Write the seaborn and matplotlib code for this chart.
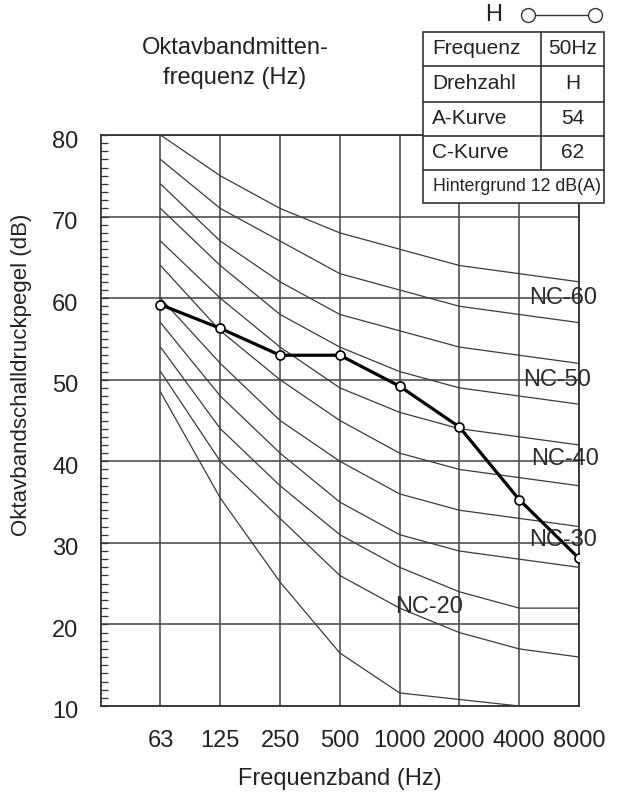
import numpy as np
import pandas as pd
import matplotlib
matplotlib.use("Agg")
import matplotlib.pyplot as plt
import seaborn as sns
from matplotlib.lines import Line2D
from matplotlib.patches import Rectangle
from matplotlib.ticker import MultipleLocator
from matplotlib.transforms import ScaledTranslation
from matplotlib import font_manager

# ---- data -------------------------------------------------------------
bands = ["63", "125", "250", "500", "1000", "2000", "4000", "8000"]

nc_65 = [80, 75, 71, 68, 66, 64, 63, 62]
nc_60 = [77, 71, 67, 63, 61, 59, 58, 57]
nc_55 = [74, 67, 62, 58, 56, 54, 53, 52]
nc_50 = [71, 64, 58, 54, 51, 49, 48, 47]
nc_45 = [67, 60, 54, 49, 46, 44, 43, 42]
nc_40 = [64, 56, 50, 45, 41, 39, 38, 37]
nc_35 = [60, 52, 45, 40, 36, 34, 33, 32]
nc_30 = [57, 48, 41, 35, 31, 29, 28, 27]
nc_25 = [54, 44, 37, 31, 27, 24, 22, 22]
nc_20 = [51, 40, 33, 26, 22, 19, 17, 16]
nc_15 = [48.5, 35.5, 25.2, 16.5, 11.6, 10.8, 10.0, np.nan]

measured = [59.2, 56.3, 53.0, 53.0, 49.2, 44.2, 35.3, 28.1]

nc_names = ["NC-65", "NC-60", "NC-55", "NC-50", "NC-45", "NC-40",
            "NC-35", "NC-30", "NC-25", "NC-20", "NC-15"]
nc_levels = [nc_65, nc_60, nc_55, nc_50, nc_45, nc_40,
             nc_35, nc_30, nc_25, nc_20, nc_15]

curve_labels = ["NC-60", "NC-50", "NC-40", "NC-30", "NC-20"]

table_keys = ["Frequenz", "Drehzahl", "A-Kurve", "C-Kurve"]
table_values = ["50Hz", "H", "54", "62"]
table_footer = "Hintergrund 12 dB(A)"

# ---- styling ----------------------------------------------------------
sns.set_theme(style="white")
plt.rcParams["font.family"] = ["Liberation Sans", "DejaVu Sans"]
TXT = "#222222"
plt.rcParams["text.color"] = TXT

W, H = 626, 798
fig = plt.figure(figsize=(W / 100, H / 100), dpi=100)


def fx(px):
    return px / W


def fy(py):
    return 1 - py / H


left, right, top, bottom = 100.7, 579.0, 135.0, 706.0
ax = fig.add_axes([fx(left), fy(bottom), fx(right) - fx(left), fy(top) - fy(bottom)])

pos = np.arange(len(bands))
nc_df = pd.DataFrame(
    [(p, lvl, name) for name, vals in zip(nc_names, nc_levels) for p, lvl in zip(pos, vals)],
    columns=["pos", "level", "curve"],
)

sns.lineplot(data=nc_df, x="pos", y="level", hue="curve",
             palette={n: "#3a3a3a" for n in nc_names}, legend=False,
             linewidth=0.9, sort=False, estimator=None, ax=ax, zorder=3)

sns.lineplot(x=pos, y=measured, color="black", linewidth=2.3, marker="o",
             markersize=6.5, markerfacecolor="white", markeredgecolor="black",
             markeredgewidth=1.2, ax=ax, zorder=5)

# ---- axes -------------------------------------------------------------
ax.set_xlim(-1, 7)
ax.set_ylim(10, 80)
ax.set_xticks(pos)
ax.set_xticklabels(bands)
ax.set_yticks(range(10, 81, 10))
ax.yaxis.set_minor_locator(MultipleLocator(1))
ax.set_axisbelow(True)
ax.grid(True, which="major", color="#505050", linewidth=1.2)

ax.tick_params(axis="x", length=0, labelsize=17, pad=17, labelcolor=TXT)
ax.tick_params(axis="y", which="major", direction="in", length=5, width=0.9,
               color="#333333", labelsize=17, pad=16, labelcolor=TXT, left=True)
ax.tick_params(axis="y", which="minor", direction="in", length=5, width=0.9,
               color="#333333", left=True)
for lab in ax.get_yticklabels():
    lab.set_transform(lab.get_transform() + ScaledTranslation(0, -4 / 100, fig.dpi_scale_trans))

for s in ax.spines.values():
    s.set_color("#333333")
    s.set_linewidth(1.3)
    s.set_visible(True)

ax.set_xlabel("Frequenzband (Hz)", fontsize=17, labelpad=12, color=TXT)
ax.set_ylabel("Oktavbandschalldruckpegel (dB)", fontsize=16, color=TXT)
ax.yaxis.set_label_coords((22.0 - left) / (right - left), (bottom - 375) / (bottom - top))
ax.yaxis.label.set_verticalalignment("center")

# curve labels
label_spots = [(6.73, 60.0), (6.63, 50.0), (6.77, 40.3), (6.74, 30.3), (4.50, 22.1)]
for txt, (xx, yy) in zip(curve_labels, label_spots):
    ax.text(xx, yy, txt, fontsize=17, ha="center", va="center", color="#2a2a2a",
            zorder=6, clip_on=False)

# ---- heading ----------------------------------------------------------
fig.text(fx(235), fy(48), "Oktavbandmitten-", fontsize=17, ha="center", va="center")
fig.text(fx(235), fy(78), "frequenz (Hz)", fontsize=17, ha="center", va="center")

# ---- legend glyph -----------------------------------------------------
fig.text(fx(494), fy(15), "H", fontsize=17, ha="center", va="center")
fig.add_artist(Line2D([fx(528), fx(595)], [fy(15), fy(15)], color="#333333", lw=1.0,
                      marker="o", markersize=10, markerfacecolor="white",
                      markeredgecolor="#333333", markeredgewidth=1.0,
                      transform=fig.transFigure))

# ---- info table -------------------------------------------------------
tx0, tx1, tcol = 422.7, 604.0, 540.7
rows = [32.0, 65.7, 101.7, 136.0, 170.0, 203.0]
edge = "#333333"
fig.add_artist(Rectangle((fx(tx0), fy(rows[-1])), fx(tx1) - fx(tx0), fy(rows[0]) - fy(rows[-1]),
                         transform=fig.transFigure, facecolor="white", edgecolor=edge,
                         linewidth=1.2, zorder=10))
for r in rows[1:-1]:
    fig.add_artist(Line2D([fx(tx0), fx(tx1)], [fy(r), fy(r)], color=edge, lw=1.2,
                          transform=fig.transFigure, zorder=11))
fig.add_artist(Line2D([fx(tcol), fx(tcol)], [fy(rows[0]), fy(rows[4])], color=edge, lw=1.2,
                      transform=fig.transFigure, zorder=11))
for i, (k, v) in enumerate(zip(table_keys, table_values)):
    yc = (rows[i] + rows[i + 1]) / 2
    fig.text(fx(432), fy(yc), k, fontsize=15, ha="left", va="center", zorder=12)
    fig.text(fx((tcol + tx1) / 2), fy(yc), v, fontsize=15, ha="center", va="center", zorder=12)

installed = {f.name for f in font_manager.fontManager.ttflist}
if "Liberation Sans Narrow" in installed:
    foot_font = dict(family="Liberation Sans Narrow", fontsize=15)
else:
    foot_font = dict(fontsize=12.8)
fig.text(fx(517), fy((rows[4] + rows[5]) / 2), table_footer, ha="center", va="center",
         zorder=12, **foot_font)

fig.savefig("out.png", dpi=100, facecolor="white")
